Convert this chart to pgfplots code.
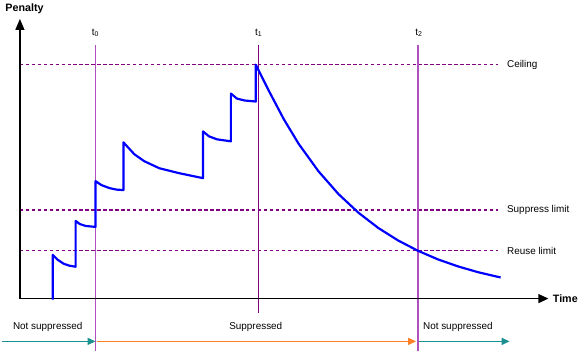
\documentclass[border=0pt]{standalone}
\usepackage{pgfplots}
\pgfplotsset{compat=1.18}
\usepackage{fontspec}
\setmainfont{Liberation Sans}
\usetikzlibrary{arrows.meta}
\definecolor{curveblue}{HTML}{0000FF}
\definecolor{dpurple}{HTML}{800080}
\definecolor{lpurple}{HTML}{B050C0}
\definecolor{teal2}{HTML}{1A9090}
\definecolor{orange2}{HTML}{FF7F27}
\begin{document}
\begin{tikzpicture}
\begin{axis}[
  width=581bp, height=353bp, scale only axis,
  xmin=0, xmax=581, ymin=0, ymax=353, y dir=reverse,
  hide axis, clip=false,
  every node/.append style={font=\fontsize{11.2}{13}\selectfont},
]
\path[draw=none] (axis cs:0,0) rectangle (axis cs:581,353);
% dashed reference lines
\addplot[dpurple, line width=1.1pt, dash pattern=on 3.5pt off 2.5pt] coordinates {(20,65) (500,65)};
\addplot[dpurple, line width=1.1pt, dash pattern=on 3.5pt off 2.5pt] coordinates {(20,211) (500,211)};
\addplot[dpurple, line width=1.1pt, dash pattern=on 3.5pt off 2.5pt] coordinates {(20,252) (500,252)};
% vertical time lines
\addplot[lpurple, line width=1.4pt] coordinates {(96,45) (96,353)};
\addplot[dpurple, line width=1.3pt] coordinates {(260,45) (260,314)};
\addplot[lpurple, line width=1.4pt] coordinates {(420,45) (420,353)};
% axes
\addplot[black, line width=1.2pt, -{Triangle[length=10bp,width=9bp]}] coordinates {(20,300) (551,300)};
\addplot[black, line width=1.2pt, -{Triangle[length=11bp,width=9bp]}] coordinates {(20,300) (20,19)};
% penalty curve
\addplot[curveblue, line width=2.2pt, line join=round] coordinates {
(53,301) (53,256) (58,261) (64,265) (70,267) (76,268)
(76,222) (80,225) (86,227) (96,228)
(96,182) (102,186) (110,189) (117,190.5) (124,191)
(124,143) (135,155) (145,162) (160,169) (180,174) (204,179)
(204,132) (210,137) (218,140) (232,142)
(232,94) (238,99) (246,101) (257,102)
(257,65) (270,91) (285,119.5) (300,144.4) (320,172.1) (340,194.9) (360,213.6)
(380,229) (400,241.6) (420,252) (440,260.6) (460,267.6) (480,273.4) (503,278.8)
};
% bottom state arrows
\addplot[teal2, line width=1.3pt, -{Triangle[length=8bp,width=7bp]}] coordinates {(2,343) (96,343)};
\addplot[orange2, line width=1.3pt, -{Triangle[length=8bp,width=7bp]}] coordinates {(97,343) (418,343)};
\addplot[teal2, line width=1.3pt, -{Triangle[length=8bp,width=7bp]}] coordinates {(421,343) (512,343)};
% labels
\node[anchor=west, font=\fontsize{10.8}{12}\selectfont\bfseries] at (axis cs:2,9) {Penalty};
\node[anchor=west, font=\fontsize{10.8}{12}\selectfont\bfseries] at (axis cs:552,300) {Time};
\node at (axis cs:96,33) {t\textsubscript{0}};
\node at (axis cs:260,33) {t\textsubscript{1}};
\node at (axis cs:421,33) {t\textsubscript{2}};
\node[anchor=west] at (axis cs:506,65) {Ceiling};
\node[anchor=west] at (axis cs:506,211) {Suppress limit};
\node[anchor=west] at (axis cs:506,252) {Reuse limit};
\node at (axis cs:48,328) {Not suppressed};
\node at (axis cs:257,328) {Suppressed};
\node at (axis cs:460,328) {Not suppressed};
\end{axis}
\end{tikzpicture}
\end{document}
